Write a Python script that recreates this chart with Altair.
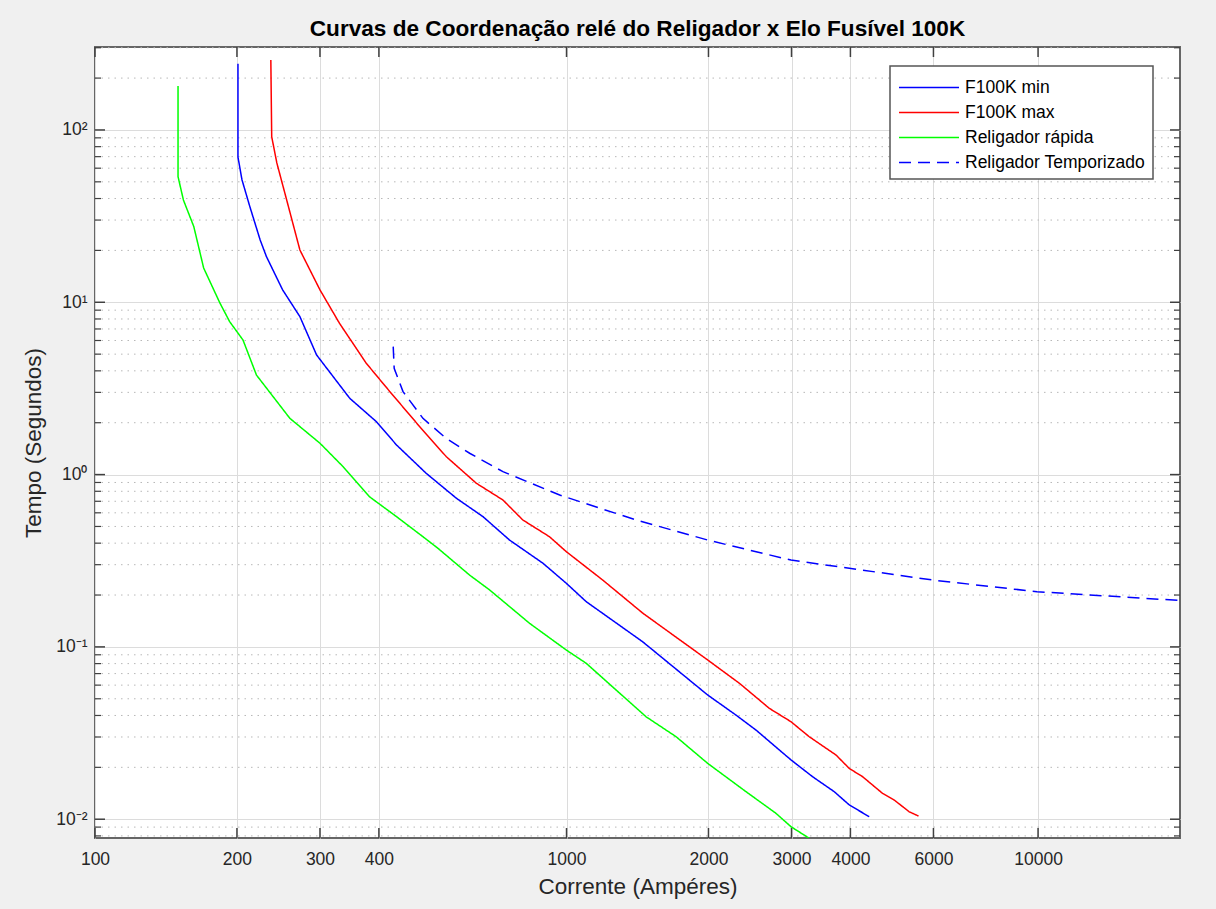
import altair as alt
import pandas as pd

# ---- data (current in A, time in s) ----
names = ["F100K min", "F100K max", "Religador rápida", "Religador Temporizado"]

min_i = [201, 201, 205, 213, 224, 231, 250, 272, 295, 347, 395, 436, 504, 584, 665, 757,
         891, 999, 1101, 1451, 1992, 2288, 2523, 2992, 3325, 3697, 3978, 4385]
min_t = [242, 69.6, 51.3, 35.9, 23.0, 18.4, 11.8, 8.25, 4.95, 2.77, 2.03, 1.485, 1.017, 0.729,
         0.570, 0.417, 0.306, 0.234, 0.183, 0.107, 0.0526, 0.0402, 0.0329, 0.0221, 0.01765,
         0.01444, 0.0121, 0.01034]

max_i = [236, 237, 243, 255, 272, 300, 330, 376, 422, 488, 556, 644, 733, 808, 920, 999, 1194,
         1451, 1992, 2326, 2692, 2992, 3272, 3727, 3978, 4245, 4679, 4954, 5330, 5577]
max_t = [255, 91.4, 64.4, 39.2, 20.1, 11.8, 7.55, 4.43, 3.03, 1.90, 1.27, 0.890, 0.712, 0.545,
         0.436, 0.357, 0.244, 0.157, 0.0840, 0.0615, 0.0440, 0.0368, 0.0301, 0.0236, 0.0197,
         0.01765, 0.01413, 0.01292, 0.01105, 0.01043]

rap_i = [150, 150, 154, 162, 170, 184, 193, 206, 220, 259, 300, 336, 382, 436, 496, 534, 623,
         687, 835, 999, 1101, 1475, 1708, 1992, 2403, 2781, 2992, 3272]
rap_t = [180, 53.6, 39.2, 27.5, 15.8, 9.91, 7.72, 6.04, 3.78, 2.12, 1.52, 1.11, 0.744, 0.570,
         0.436, 0.373, 0.261, 0.214, 0.137, 0.0959, 0.0803, 0.0393, 0.0301, 0.0211, 0.01444,
         0.01082, 0.00905, 0.00775]

temp_i = [429, 431, 450, 496, 556, 623, 733, 967, 1405, 1992, 2992, 3978, 6002, 9952, 20000]
temp_t = [5.53, 4.14, 3.03, 2.12, 1.62, 1.33, 1.04, 0.761, 0.545, 0.417, 0.319, 0.286, 0.244,
          0.209, 0.186]

x_ticks = [100, 200, 300, 400, 1000, 2000, 3000, 4000, 6000, 10000]
y_major = [0.01, 0.1, 1, 10, 100]
x_dom = [100, 20000]
y_dom = [0.00778, 303]
y_minor = [m * 10.0 ** e for e in range(-3, 3) for m in range(2, 10)
           if y_dom[0] <= m * 10.0 ** e <= y_dom[1]]

colors = ["#0000ff", "#ff0000", "#00ff00", "#0000ff"]
dashes = [[1, 0], [1, 0], [1, 0], [12, 7]]

rows = []
for name, xi, ti in zip(names, [min_i, max_i, rap_i, temp_i], [min_t, max_t, rap_t, temp_t]):
    for k, (a, b) in enumerate(zip(xi, ti)):
        rows.append({"series": name, "i": a, "t": b, "idx": k})
df = pd.DataFrame(rows)

W, H = 1085, 791
FONT = "Liberation Sans"
xs = alt.Scale(type="log", domain=x_dom, nice=False)
ys = alt.Scale(type="log", domain=y_dom, nice=False)

leg = alt.Legend(title=None, orient="none", legendX=795, legendY=19,
                 symbolType="M-1,0H3.8", symbolSize=625, symbolStrokeWidth=1.5,
                 labelFontSize=17.5, labelFont=FONT, labelColor="#000000", labelLimit=0,
                 labelOffset=40, padding=8, rowPadding=3,
                 strokeColor="#555555", fillColor="#ffffff", cornerRadius=0)

ylab = ("datum.value == 100 ? '10²' : datum.value == 10 ? '10¹' : "
        "datum.value == 1 ? '10⁰' : datum.value == 0.1 ? '10⁻¹' : '10⁻²'")

minor_grid = alt.Chart(pd.DataFrame({"v": y_minor})).mark_rule(
    color="#b8b8b8", strokeWidth=1, strokeDash=[1.5, 5]
).encode(y=alt.Y("v:Q", scale=ys), x=alt.value(0), x2=alt.value(W))

lines = alt.Chart(df).mark_line(strokeWidth=1.5, clip=True).encode(
    x=alt.X("i:Q", scale=xs,
            axis=alt.Axis(values=x_ticks, format="d", title="Corrente (Ampéres)",
                          grid=True, ticks=False, domain=False, labelPadding=12,
                          labelFlush=False, titlePadding=8)),
    y=alt.Y("t:Q", scale=ys,
            axis=alt.Axis(values=y_major, labelExpr=ylab, title="Tempo (Segundos)",
                          grid=True, ticks=False, domain=False, labelPadding=8,
                          labelFlush=False, titlePadding=10)),
    color=alt.Color("series:N", scale=alt.Scale(domain=names, range=colors), legend=leg),
    strokeDash=alt.StrokeDash("series:N", scale=alt.Scale(domain=names, range=dashes), legend=leg),
    order="idx:Q",
)

xt = pd.DataFrame({"v": x_ticks})
tick_col = "#404040"
xb = alt.Chart(xt).mark_rule(color=tick_col, strokeWidth=1.5).encode(
    x=alt.X("v:Q", scale=xs), y=alt.value(H), y2=alt.value(H - 10))
xtop = alt.Chart(xt).mark_rule(color=tick_col, strokeWidth=1.5).encode(
    x=alt.X("v:Q", scale=xs), y=alt.value(0), y2=alt.value(10))
ym = pd.DataFrame({"v": y_major})
yn = pd.DataFrame({"v": y_minor})
yl = alt.Chart(ym).mark_rule(color=tick_col, strokeWidth=1.5).encode(
    y=alt.Y("v:Q", scale=ys), x=alt.value(0), x2=alt.value(10))
yr = alt.Chart(ym).mark_rule(color=tick_col, strokeWidth=1.5).encode(
    y=alt.Y("v:Q", scale=ys), x=alt.value(W), x2=alt.value(W - 10))
yln = alt.Chart(yn).mark_rule(color=tick_col, strokeWidth=1.2).encode(
    y=alt.Y("v:Q", scale=ys), x=alt.value(0), x2=alt.value(6))
yrn = alt.Chart(yn).mark_rule(color=tick_col, strokeWidth=1.2).encode(
    y=alt.Y("v:Q", scale=ys), x=alt.value(W), x2=alt.value(W - 6))

chart = alt.layer(minor_grid, lines, xb, xtop, yl, yr, yln, yrn).properties(
    width=W, height=H,
    autosize=alt.AutoSizeParams(type="none"),
    padding={"left": 95, "top": 47, "right": 36, "bottom": 71},
    title=alt.TitleParams("Curvas de Coordenação relé do Religador x Elo Fusível 100K",
                          fontSize=22.6, fontWeight="bold", font=FONT, color="#000000",
                          anchor="middle", offset=6),
).configure(background="#f0f0f0").configure_view(
    fill="#ffffff", stroke="#666666", strokeWidth=2
).configure_axis(
    labelFont=FONT, labelFontSize=17.5, labelColor="#262626",
    titleFont=FONT, titleFontSize=22.5, titleFontWeight="normal", titleColor="#262626",
    gridColor="#dcdcdc", gridWidth=1
).configure_legend(strokeWidth=1.5)

chart.save("out.html", embed_options={"renderer": "svg", "actions": False})
